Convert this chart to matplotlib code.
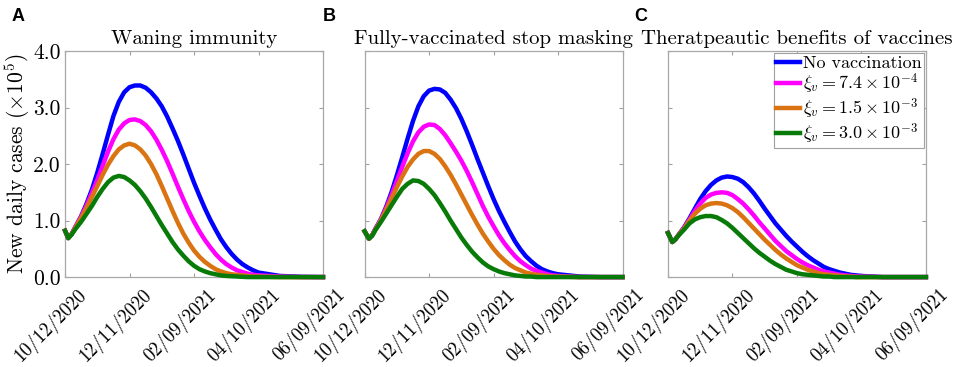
import matplotlib
matplotlib.use("Agg")
import matplotlib.pyplot as plt
import matplotlib.transforms as mtransforms

plt.rcParams['font.family'] = ['cmr10', 'DejaVu Serif']
plt.rcParams['mathtext.fontset'] = 'cm'
plt.rcParams['axes.formatter.use_mathtext'] = True

# days since 10/12/2020
days_a = [0, 3, 6, 10] + list(range(15, 185, 5)) + [200, 220, 240]
days_bc = [0, 4, 7, 10] + list(range(15, 185, 5)) + [200, 220, 240]

tick_days = [0, 60, 120, 180, 240]
tick_labels = ['10/12/2020', '12/11/2020', '02/09/2021', '04/10/2021', '06/09/2021']

titles = ['Waning immunity', 'Fully-vaccinated stop masking',
          'Theratpeautic benefits of vaccines']
panel_letters = ['A', 'B', 'C']

series_names = ['No vaccination',
                r'$\xi_v = 7.4\times10^{-4}$',
                r'$\xi_v = 1.5\times10^{-3}$',
                r'$\xi_v = 3.0\times10^{-3}$']
colors = ['#0000FF', '#FF00FF', '#DA7312', '#077A07']

# new daily cases (x 10^5)
a_none = [0.82, 0.69, 0.76, 0.90, 1.08, 1.30, 1.55, 1.85, 2.18, 2.52, 2.85, 3.10, 3.27, 3.36,
          3.39, 3.39, 3.35, 3.27, 3.16, 3.02, 2.84, 2.63, 2.41, 2.17, 1.92, 1.67, 1.44, 1.22,
          1.02, 0.84, 0.67, 0.53, 0.41, 0.31, 0.23, 0.17, 0.12, 0.08, 0.02, 0.005, 0.0]
a_74e4 = [0.82, 0.69, 0.76, 0.90, 1.07, 1.27, 1.49, 1.72, 1.97, 2.22, 2.44, 2.61, 2.72, 2.78,
          2.79, 2.76, 2.69, 2.58, 2.43, 2.25, 2.05, 1.83, 1.60, 1.38, 1.17, 0.98, 0.81, 0.66,
          0.53, 0.41, 0.31, 0.23, 0.17, 0.12, 0.09, 0.06, 0.04, 0.03, 0.01, 0.0, 0.0]
a_15e3 = [0.82, 0.69, 0.76, 0.89, 1.05, 1.23, 1.42, 1.61, 1.81, 1.99, 2.14, 2.26, 2.33, 2.36,
          2.33, 2.26, 2.15, 2.00, 1.82, 1.61, 1.39, 1.17, 0.96, 0.77, 0.61, 0.47, 0.36, 0.27,
          0.20, 0.14, 0.10, 0.07, 0.05, 0.04, 0.03, 0.02, 0.01, 0.01, 0.0, 0.0, 0.0]
a_30e3 = [0.82, 0.69, 0.75, 0.86, 0.98, 1.12, 1.26, 1.42, 1.56, 1.68, 1.76, 1.79, 1.77, 1.71,
          1.63, 1.52, 1.39, 1.24, 1.08, 0.92, 0.77, 0.62, 0.49, 0.38, 0.28, 0.20, 0.14, 0.10,
          0.07, 0.05, 0.03, 0.02, 0.015, 0.01, 0.005, 0.0, 0.0, 0.0, 0.0, 0.0, 0.0]

b_none = [0.81, 0.68, 0.74, 0.85, 1.02, 1.24, 1.50, 1.80, 2.12, 2.45, 2.76, 3.02, 3.20, 3.30,
          3.33, 3.32, 3.26, 3.14, 2.99, 2.80, 2.58, 2.34, 2.09, 1.85, 1.61, 1.38, 1.17, 0.98,
          0.80, 0.63, 0.49, 0.37, 0.28, 0.20, 0.14, 0.10, 0.07, 0.05, 0.01, 0.0, 0.0]
b_74e4 = [0.81, 0.68, 0.74, 0.85, 1.01, 1.22, 1.45, 1.70, 1.95, 2.19, 2.40, 2.56, 2.66, 2.70,
          2.69, 2.62, 2.51, 2.37, 2.22, 2.06, 1.88, 1.68, 1.47, 1.26, 1.07, 0.90, 0.74, 0.60,
          0.48, 0.37, 0.28, 0.21, 0.15, 0.11, 0.08, 0.05, 0.03, 0.02, 0.0, 0.0, 0.0]
b_15e3 = [0.81, 0.68, 0.74, 0.84, 1.00, 1.19, 1.39, 1.59, 1.78, 1.95, 2.08, 2.18, 2.23, 2.23,
          2.18, 2.09, 1.96, 1.81, 1.64, 1.46, 1.28, 1.10, 0.93, 0.77, 0.63, 0.50, 0.39, 0.30,
          0.22, 0.16, 0.12, 0.08, 0.06, 0.04, 0.03, 0.02, 0.01, 0.01, 0.0, 0.0, 0.0]
b_30e3 = [0.81, 0.68, 0.73, 0.83, 0.97, 1.12, 1.27, 1.42, 1.56, 1.65, 1.71, 1.70, 1.65, 1.56,
          1.45, 1.31, 1.16, 1.00, 0.85, 0.70, 0.57, 0.45, 0.35, 0.26, 0.19, 0.14, 0.10, 0.07,
          0.05, 0.03, 0.02, 0.01, 0.01, 0.0, 0.0, 0.0, 0.0, 0.0, 0.0, 0.0, 0.0]

c_none = [0.78, 0.62, 0.67, 0.75, 0.88, 1.04, 1.21, 1.38, 1.52, 1.63, 1.71, 1.76, 1.78, 1.77,
          1.74, 1.68, 1.59, 1.48, 1.35, 1.21, 1.08, 0.95, 0.84, 0.73, 0.63, 0.54, 0.45, 0.37,
          0.30, 0.24, 0.18, 0.14, 0.11, 0.08, 0.06, 0.04, 0.03, 0.02, 0.0, 0.0, 0.0]
c_74e4 = [0.78, 0.62, 0.67, 0.75, 0.87, 1.02, 1.17, 1.30, 1.40, 1.46, 1.49, 1.50, 1.49, 1.45,
          1.38, 1.30, 1.20, 1.09, 0.97, 0.86, 0.75, 0.64, 0.55, 0.46, 0.39, 0.32, 0.26, 0.21,
          0.17, 0.13, 0.10, 0.08, 0.06, 0.04, 0.03, 0.02, 0.015, 0.01, 0.0, 0.0, 0.0]
c_15e3 = [0.78, 0.62, 0.67, 0.75, 0.86, 1.00, 1.12, 1.21, 1.27, 1.30, 1.31, 1.30, 1.27, 1.22,
          1.15, 1.06, 0.96, 0.86, 0.76, 0.66, 0.57, 0.48, 0.40, 0.33, 0.27, 0.21, 0.17, 0.13,
          0.10, 0.07, 0.05, 0.04, 0.03, 0.02, 0.01, 0.01, 0.0, 0.0, 0.0, 0.0, 0.0]
c_30e3 = [0.78, 0.62, 0.67, 0.74, 0.84, 0.95, 1.02, 1.06, 1.08, 1.08, 1.06, 1.01, 0.95, 0.87,
          0.78, 0.69, 0.60, 0.51, 0.43, 0.36, 0.29, 0.23, 0.18, 0.13, 0.10, 0.07, 0.05, 0.04,
          0.03, 0.02, 0.01, 0.01, 0.0, 0.0, 0.0, 0.0, 0.0, 0.0, 0.0, 0.0, 0.0]

panels = [
    (days_a, [a_none, a_74e4, a_15e3, a_30e3]),
    (days_bc, [b_none, b_74e4, b_15e3, b_30e3]),
    (days_bc, [c_none, c_74e4, c_15e3, c_30e3]),
]

fig = plt.figure(figsize=(9.57, 3.67), dpi=100)
lefts = [0.068, 0.381, 0.698]
width = 0.2695
bottom, height = 0.245, 0.616
letter_x = [0.012, 0.337, 0.663]

# shift rotated tick labels so their right end sits past the tick (MATLAB style)
label_shift = mtransforms.ScaledTranslation(0.12, -0.08, fig.dpi_scale_trans)

for i, (days, ys) in enumerate(panels):
    ax = fig.add_axes([lefts[i], bottom, width, height])
    for y, c, name in zip(ys, colors, series_names):
        ax.plot(days, y, color=c, lw=3.2, label=name, clip_on=False,
                solid_joinstyle='round', zorder=3)
    ax.set_xlim(0, 240)
    ax.set_ylim(0, 4)
    ax.tick_params(axis='both', direction='in', top=True, right=True, length=3,
                   color='#A0A0A0')
    ax.tick_params(axis='x', pad=0)
    ax.tick_params(axis='y', pad=3)
    ax.set_xticks(tick_days)
    ax.set_xticklabels(tick_labels, rotation=45, ha='right', va='top',
                       rotation_mode='anchor', fontsize=13.5)
    ax.set_yticks([0, 1, 2, 3, 4])
    if i == 0:
        ax.set_yticklabels(['0.0', '1.0', '2.0', '3.0', '4.0'], fontsize=15.5)
        ax.set_ylabel(r'New daily cases ($\times 10^5$)', fontsize=15.5, labelpad=1)
    else:
        ax.set_yticklabels([])
    for lab in ax.get_xticklabels():
        lab.set_transform(lab.get_transform() + label_shift)
    for s in ax.spines.values():
        s.set_color('#A8A8A8')
        s.set_linewidth(0.9)
    ax.set_title(titles[i], fontsize=15, pad=5)
    fig.text(letter_x[i], 0.955, panel_letters[i], fontsize=13, fontweight='bold',
             family='Liberation Sans', va='center')
    if i == 2:
        leg = ax.legend(loc='upper right', fontsize=13, handlelength=1.3,
                        handletextpad=0.15, borderpad=0.15, labelspacing=0.02,
                        fancybox=False, framealpha=1, borderaxespad=0.1)
        leg.get_frame().set_edgecolor('#A0A0A0')
        leg.get_frame().set_linewidth(0.8)

fig.savefig('out.png', dpi=100)
